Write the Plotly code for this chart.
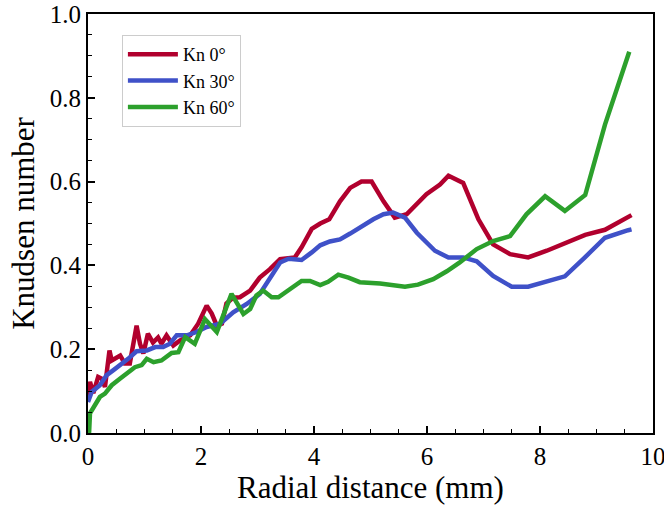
import plotly.graph_objects as go

# Kn 0°
x0 = [0.0, 0.035, 0.094, 0.18, 0.24, 0.30, 0.38, 0.42, 0.57, 0.65, 0.74, 0.86, 0.92, 0.98, 1.06, 1.15, 1.24, 1.30,
      1.39, 1.51, 1.63, 1.81, 1.95, 2.10, 2.19, 2.28, 2.37, 2.45, 2.57, 2.69, 2.87, 3.04, 3.22, 3.40, 3.66,
      3.78, 3.96, 4.11, 4.27, 4.46, 4.64, 4.84, 5.02, 5.23, 5.43, 5.64, 5.99, 6.23, 6.38, 6.64, 6.91,
      7.17, 7.47, 7.79, 8.12, 8.44, 8.80, 9.15, 9.56, 9.62]
y0 = [0.085, 0.122, 0.095, 0.134, 0.13, 0.11, 0.197, 0.173, 0.185, 0.166, 0.166, 0.256, 0.213, 0.19, 0.237, 0.216,
      0.228, 0.213, 0.233, 0.209, 0.221, 0.233, 0.261, 0.304, 0.285, 0.256, 0.261, 0.309, 0.323, 0.324, 0.34,
      0.371, 0.391, 0.415, 0.419, 0.443, 0.487, 0.50, 0.51, 0.553, 0.585, 0.60, 0.60, 0.553, 0.514, 0.522,
      0.57, 0.593, 0.614, 0.597, 0.51, 0.45, 0.427, 0.419, 0.435, 0.452, 0.473, 0.485, 0.515, 0.52]

# Kn 30°
x30 = [0.0, 0.065, 0.21, 0.33, 0.45, 0.57, 0.71, 0.86, 1.04, 1.19, 1.33, 1.45, 1.57, 1.75, 1.92, 2.10, 2.34,
       2.57, 2.81, 3.04, 3.10, 3.25, 3.40, 3.55, 3.78, 3.96, 4.11, 4.28, 4.46, 4.64, 4.87, 5.05, 5.23, 5.40,
       5.61, 5.82, 6.14, 6.38, 6.64, 6.88, 7.17, 7.50, 7.79, 8.12, 8.44, 8.80, 9.15, 9.56, 9.62]
y30 = [0.074, 0.098, 0.114, 0.138, 0.15, 0.162, 0.177, 0.195, 0.197, 0.205, 0.205, 0.213, 0.233, 0.233, 0.241,
       0.253, 0.261, 0.288, 0.308, 0.332, 0.344, 0.375, 0.407, 0.416, 0.413, 0.431, 0.448, 0.457, 0.462, 0.476,
       0.496, 0.51, 0.522, 0.526, 0.514, 0.478, 0.435, 0.419, 0.419, 0.41, 0.375, 0.349, 0.349, 0.363, 0.374,
       0.42, 0.466, 0.484, 0.486]

# Kn 60°
x60 = [0.0, 0.02, 0.035, 0.094, 0.21, 0.30, 0.42, 0.57, 0.71, 0.83, 0.95, 1.04, 1.16, 1.30, 1.48, 1.60, 1.72,
       1.89, 2.07, 2.28, 2.54, 2.75, 2.87, 2.98, 3.10, 3.25, 3.37, 3.58, 3.78, 3.93, 4.11, 4.25, 4.43, 4.61,
       4.81, 5.17, 5.40, 5.61, 5.84, 6.11, 6.35, 6.58, 6.88, 7.17, 7.47, 7.76, 8.09, 8.44, 8.80, 9.15, 9.58]
y60 = [0.0, 0.003, 0.047, 0.062, 0.086, 0.094, 0.114, 0.13, 0.146, 0.157, 0.162, 0.177, 0.169, 0.173, 0.191,
       0.193, 0.229, 0.213, 0.272, 0.241, 0.332, 0.284, 0.296, 0.328, 0.34, 0.324, 0.324, 0.344, 0.363, 0.363,
       0.353, 0.361, 0.378, 0.371, 0.36, 0.357, 0.352, 0.349, 0.354, 0.367, 0.386, 0.407, 0.439, 0.458, 0.47,
       0.522, 0.565, 0.53, 0.568, 0.736, 0.91]

names = ["Kn 0°", "Kn 30°", "Kn 60°"]
colors = ["#B1002E", "#3F51C8", "#2CA02C"]

fig = go.Figure()
for xs, ys, nm, c in zip([x0, x30, x60], [y0, y30, y60], names, colors):
    fig.add_trace(go.Scatter(x=xs, y=ys, mode="lines", name=nm,
                             line=dict(color=c, width=4.5)))

font_family = "Times New Roman, Liberation Serif, serif"
axis_common = dict(
    showline=True, linecolor="black", linewidth=2, mirror=True,
    ticks="inside", ticklen=7, tickwidth=1.5, tickcolor="black",
    showgrid=False, zeroline=False, automargin=False,
    ticklabeloverflow="allow",
    tickfont=dict(family=font_family, size=25, color="black"),
)
fig.update_xaxes(range=[0, 10], dtick=2, tick0=0,
                 minor=dict(dtick=0.5, ticklen=4, ticks="inside", tickcolor="black", tickwidth=1),
                 title=dict(text="Radial distance (mm)", font=dict(family=font_family, size=31, color="black"),
                            standoff=4),
                 **axis_common)
fig.update_yaxes(range=[0, 1.0], dtick=0.2, tick0=0, tickformat=".1f",
                 minor=dict(dtick=0.05, ticklen=4, ticks="inside", tickcolor="black", tickwidth=1),
                 title=dict(text="Knudsen number", font=dict(family=font_family, size=31, color="black"),
                            standoff=6),
                 **axis_common)

fig.update_layout(
    width=664, height=508,
    margin=dict(l=88, r=11, t=14, b=75, autoexpand=False),
    plot_bgcolor="white", paper_bgcolor="white",
    font=dict(family=font_family, color="black"),
    legend=dict(x=0.06, y=0.95, xanchor="left", yanchor="top",
                bgcolor="white", bordercolor="#CCCCCC", borderwidth=1,
                font=dict(family=font_family, size=18, color="black"),
                itemwidth=50, tracegroupgap=0),
    showlegend=True,
)

fig.write_html("out.html")
